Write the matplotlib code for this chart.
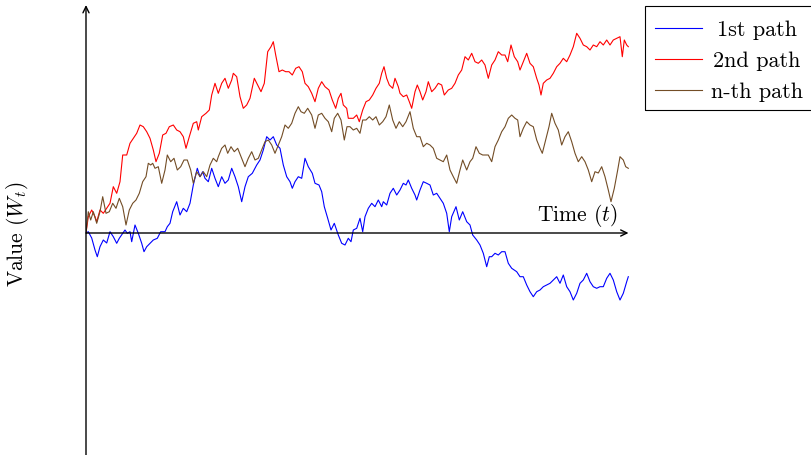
import matplotlib
matplotlib.use('Agg')
import matplotlib.pyplot as plt
from matplotlib.lines import Line2D
from matplotlib.patches import Rectangle

plt.rcParams['font.family'] = ['cmr10', 'DejaVu Serif']
plt.rcParams['mathtext.fontset'] = 'cm'
plt.rcParams['axes.formatter.use_mathtext'] = True

# (time, value) samples (arbitrary units)
path_1st = [(0, 0), (2.3, 1.3), (5.7, -5), (9, -17), (11.3, -23.7), (14, -13.7), (17.3, -7), (20.7, -10),
            (24, 1.3), (27.3, -3.7), (30.7, -10.3), (33.3, -5.3), (36.7, -0.3), (39, 3), (41.3, -0.3),
            (44, 1.3), (45.7, -8.7), (49, 8), (52.3, -0.3), (55.7, -10.3), (58, -18.7), (60.7, -13.7),
            (64, -10.3), (67.3, -7), (71.3, -5.3), (74.7, 1.3), (79, 1.3), (81.3, 6.3), (84, 9.7),
            (86.7, 21.3), (90.7, 31.3), (94, 18), (97.3, 24.7), (100.7, 21.3), (104, 29.7), (107.3, 48),
            (111.3, 64.7), (114, 56.3), (116.7, 61.3), (119, 54.7), (122.3, 51.3), (125.7, 64.7),
            (129, 54.7), (132.3, 46.3), (135.7, 56.3), (139, 49.7), (142.3, 53), (145.7, 64.7),
            (149, 56.3), (152.3, 46.3), (155.7, 31.3), (159, 46.3), (162.3, 56.3), (166.3, 59.7),
            (170.7, 68), (174, 73), (177.3, 83), (180.7, 96.3), (184, 93), (187.3, 96.3), (190.7, 88),
            (194, 84.7), (197.3, 68), (200.7, 56.3), (204, 51.3), (206.3, 44.7), (209, 51.3),
            (212.3, 56.3), (215.7, 54.7), (219, 74.7), (222.3, 66.3), (226.3, 59.7), (229, 49.7),
            (233, 48), (235.7, 41.3), (238.3, 26.3), (241.7, 14.7), (245, 3), (248.3, 9.7), (252.3, -2),
            (255.7, -10.3), (259, -12), (262.3, -5.3), (265, -8.7), (267.3, 3), (270.7, 4.7),
            (274, 14.7), (276.7, 1.3), (279, 16.3), (282.3, 24.7), (285.7, 29.7), (289, 26.3),
            (292.3, 33), (295.7, 26.3), (297.3, 31.3), (300.7, 28), (304, 39.7), (307.3, 44.7),
            (310.7, 38), (314, 43), (317.3, 49.7), (320, 48), (322.3, 53), (325.7, 44.7), (329, 38),
            (330.7, 33), (334, 43), (337.3, 51.3), (340.7, 49.7), (344, 48), (347.3, 38), (350.7, 39.7),
            (354, 34.7), (357.3, 29.7), (360.7, 19.7), (363.3, 1.3), (365.7, 16.3), (370, 26.3),
            (373.3, 13), (376.7, 21.3), (380.7, 11.3), (384, 8), (386.7, -2), (390.7, -7), (394, -12),
            (397.3, -20.3), (400.7, -33.7), (403.3, -23.7), (405.7, -23.7), (409, -20.3), (412.3, -22),
            (415.7, -18.7), (419, -18.7), (422.3, -30.3), (425.7, -35.3), (430.7, -38.7), (434, -43.7),
            (437.3, -43.7), (440.7, -52), (444, -58.7), (447.3, -63.7), (450.7, -58.7), (454, -57),
            (457.3, -53.7), (460.7, -52), (464, -50.3), (467.3, -47), (470.7, -43.7), (474, -50.3),
            (477.3, -42), (480.7, -53.7), (484, -58.7), (487.3, -67), (490.7, -60.3), (494, -50.3),
            (497.3, -47), (500.7, -40.3), (504, -48.7), (507.3, -53.7), (510.7, -55.3), (514, -53.7),
            (517.3, -53.7), (520.7, -45.3), (524, -40.3), (527.3, -47), (530.7, -58.7), (534, -67),
            (537.3, -60.3), (540.7, -48.7), (542.3, -43.7)]

path_2nd = [(0, 0), (2.3, 16.3), (5.7, 23), (9, 16.3), (10.7, 11.3), (14, 23), (17.3, 19.7), (20.7, 24.7),
            (24, 29.7), (27.3, 46.3), (30.7, 39.7), (34, 51.3), (36.7, 78), (40.7, 78), (44, 89.7),
            (47.3, 94.7), (50.7, 99.7), (54, 108), (57.3, 106.3), (60.7, 101.3), (64, 94.7), (67.3, 83),
            (70, 71.3), (73.3, 79.7), (76.7, 98), (80, 99.7), (83.3, 106.3), (87.3, 108), (90.7, 103),
            (94, 101.3), (97.3, 96.3), (100, 84.7), (103.3, 96.3), (107.3, 109.7), (110.7, 111.3),
            (112.3, 103), (115.7, 116.3), (120, 119.7), (123.3, 123), (125.7, 138), (129, 149.7),
            (132.3, 139.7), (135.7, 149.7), (139, 154.7), (142.3, 144.7), (145.7, 153), (147.3, 159.7),
            (150.7, 156.3), (154, 136.3), (157.3, 124.7), (160.7, 128), (164, 134.7), (168.3, 154.7),
            (171.7, 148), (175, 141.3), (178.3, 149.7), (181.7, 181.3), (185, 186.3), (187.3, 191.3),
            (189.7, 178), (193, 161.3), (196.3, 163), (199.7, 161.3), (203, 161.3), (206.3, 158),
            (209.7, 164.7), (213, 166.3), (216.3, 161.3), (219, 149.7), (222.3, 146.3), (225.7, 139.7),
            (229, 131.3), (232.3, 144.7), (235.7, 151.3), (239, 146.3), (243, 143), (246.3, 133),
            (249.7, 124.7), (252.3, 134.7), (255, 139.7), (257.3, 128), (260.7, 124.7), (262.3, 114.7),
            (265.7, 114.7), (267.3, 114.7), (270.7, 118), (273.3, 111.3), (276.7, 123), (280, 131.3),
            (283.3, 133), (286.7, 138), (290, 144.7), (293.3, 149.7), (295.7, 159.7), (298, 166.3),
            (300.7, 154.7), (303.3, 148), (306.7, 144.7), (309, 154.7), (312.3, 146.3), (314, 139.7),
            (317.3, 136.3), (320.7, 138), (323.3, 131.3), (325.7, 124.7), (329, 141.3), (331.3, 148),
            (334, 141.3), (336.7, 133), (340, 141.3), (342.3, 151.3), (345.7, 141.3), (349, 144.7),
            (352.3, 149.7), (355.7, 148), (358.3, 138), (362.3, 143), (365.7, 144.7), (369, 149.7),
            (372.3, 158), (375.7, 163), (379, 176.3), (382.3, 173), (385.7, 179.7), (389, 171.3),
            (392.3, 169.7), (395.7, 173), (399, 168), (402.3, 154.7), (405.7, 168), (409, 173),
            (412.3, 181.3), (415.7, 178), (419, 178), (421.7, 171.3), (425, 188), (428.3, 176.3),
            (431.7, 171.3), (434, 163), (437.3, 171.3), (440.7, 179.7), (444, 169.7), (447.3, 166.3),
            (450.7, 154.7), (453, 148), (455, 138), (457.3, 149.7), (460.7, 153), (464, 154.7),
            (467.3, 159.7), (470.7, 166.3), (474, 169.7), (477.3, 174.7), (480.7, 171.3), (484, 178),
            (487.3, 186.3), (490.7, 199.7), (494, 194.7), (497.3, 188), (500.7, 186.3), (504, 183),
            (507.3, 188), (510.7, 186.3), (514, 191.3), (517.3, 188), (520.7, 193), (524, 188),
            (527.3, 193), (530.7, 194.7), (534, 196.3), (536.3, 176.3), (538.3, 193), (540.7, 188),
            (542.3, 186.3)]

path_nth = [(0, 0), (2.3, 21.3), (4.7, 13), (7.3, 21.3), (10.7, 9.7), (14, 21.3), (16.7, 36.3), (20, 19.7),
            (23.3, 21.3), (26.7, 29.7), (30, 24.7), (33.3, 34.7), (36.7, 26.3), (40, 8), (43.3, 23),
            (46.7, 29.7), (50, 33), (53.3, 39.7), (56.7, 51.3), (60, 56.3), (62.3, 69.7), (64.7, 68),
            (66.7, 69.7), (69, 64.7), (72.3, 66.3), (75.7, 49.7), (79, 63), (81.3, 78), (84.7, 71.3),
            (88, 74.7), (91.3, 63), (94.7, 66.3), (98, 73), (101.3, 73), (104.7, 63), (107.3, 49.7),
            (110.7, 61.3), (114, 56.3), (117.3, 61.3), (120.7, 56.3), (124, 68), (127.3, 74.7),
            (130.7, 71.3), (132.3, 76.3), (135.7, 84.7), (139, 88), (141.7, 79.7), (145, 86.3),
            (148.3, 81.3), (151.7, 84.7), (155, 76.3), (159, 66.3), (162.3, 74.7), (165.7, 81.3),
            (169, 73), (172.3, 74.7), (175.7, 83), (179, 91.3), (182.3, 93), (185.7, 88), (189, 79.7),
            (192.3, 88), (195.7, 96.3), (199, 108), (202.3, 104.7), (205.7, 109.7), (209, 119.7),
            (212.3, 126.3), (215, 121.3), (218.3, 119.7), (221.7, 124.7), (225.7, 118), (229, 104.7),
            (232.3, 118), (235.7, 119.7), (239, 114.7), (242.3, 111.3), (245.7, 101.3), (248.3, 114.7),
            (251.7, 119.7), (255, 113), (258.3, 93), (261, 106.3), (264, 106.3), (267.3, 103),
            (270.7, 104.7), (274, 99.7), (276.7, 113), (280, 113), (283.3, 116.3), (286.7, 113),
            (290, 116.3), (293.3, 108), (296.7, 111.3), (300, 116.3), (303.3, 128), (306.7, 113),
            (310, 104.7), (313.3, 111.3), (316.7, 106.3), (320, 111.3), (324, 121.3), (327.3, 104.7),
            (330.7, 96.3), (334, 96.3), (337.3, 86.3), (340.7, 89.7), (344, 88), (347.3, 84.7),
            (350.7, 74.7), (354, 73), (357.3, 71.3), (360.7, 78), (364, 63), (367.3, 56.3),
            (370.7, 49.7), (374, 63), (376.7, 73), (380.7, 63), (384, 71.3), (386.7, 74.7), (390, 86.3),
            (393.3, 79.7), (396.7, 78), (400, 78), (402.3, 78), (405.7, 71.3), (409, 86.3), (412.3, 93),
            (415.7, 101.3), (419, 106.3), (422.3, 114.7), (425.7, 118), (429, 114.7), (431.7, 113),
            (434, 96.3), (437.3, 104.7), (440.7, 111.3), (444, 108), (447.3, 106.3), (450.7, 93),
            (454, 84.7), (456.3, 79.7), (459.7, 93), (463, 106.3), (465.7, 119.7), (469, 109.7),
            (472.3, 103), (475.7, 88), (479, 96.3), (482.3, 101.3), (485.7, 91.3), (489, 79.7),
            (492.3, 71.3), (495.7, 76.3), (499, 71.3), (502.3, 63), (505.7, 51.3), (509, 61.3),
            (512.3, 60), (515.7, 66.3), (519, 56.3), (522.3, 43), (525, 31.3), (528.3, 44.7),
            (531.7, 63), (534, 76.3), (537.3, 73), (539.7, 66.3), (542.3, 64.7)]

series_labels = ['1st path', '2nd path', 'n-th path']
series_colors = ['#0000ff', '#ff0000', '#734d26']
x_label = 'Time $(t)$'
y_label = 'Value ($W_t$)'

W, H = 812, 455
fig = plt.figure(figsize=(W / 100, H / 100), dpi=100)
ax = fig.add_axes([86 / W, 0, (630 - 86) / W, 450 / H])
ax.set_xlim(0, 544)
ax.set_ylim(-222, 228)
ax.axis('off')

for path, col in zip([path_1st, path_2nd, path_nth], series_colors):
    tt, ww = zip(*path)
    ax.plot(tt, ww, color=col, lw=0.8, solid_joinstyle='round', zorder=2)

arrow = dict(arrowstyle='->,head_length=0.45,head_width=0.22', lw=1.0, color='black',
             shrinkA=0, shrinkB=0)
ax.annotate('', xy=(542.5, 0), xytext=(0, 0), arrowprops=arrow, zorder=3)
ax.annotate('', xy=(0, 228), xytext=(0, -222), arrowprops=arrow, zorder=3, annotation_clip=False)

ax.text(577 - 86, 233 - 221, x_label, ha='center', va='baseline', fontsize=15.5)
fig.text(18 / W, 1 - 234 / H, y_label, rotation=90, ha='center', va='center', fontsize=15.5)

# legend box
def fx(px):
    return px / W

def fy(py):
    return 1 - py / H

fig.add_artist(Rectangle((fx(645), fy(110)), fx(830) - fx(645), fy(6) - fy(110), fill=False,
                         edgecolor='black', lw=0.8, transform=fig.transFigure))
for i, (lab, col) in enumerate(zip(series_labels, series_colors)):
    yy = 28 + 31 * i
    fig.add_artist(Line2D([fx(655), fx(702)], [fy(yy), fy(yy)], color=col, lw=0.8,
                          transform=fig.transFigure))
    fig.text(fx(757), fy(yy), lab, ha='center', va='center_baseline', fontsize=16)

fig.savefig('out.png', dpi=100)
